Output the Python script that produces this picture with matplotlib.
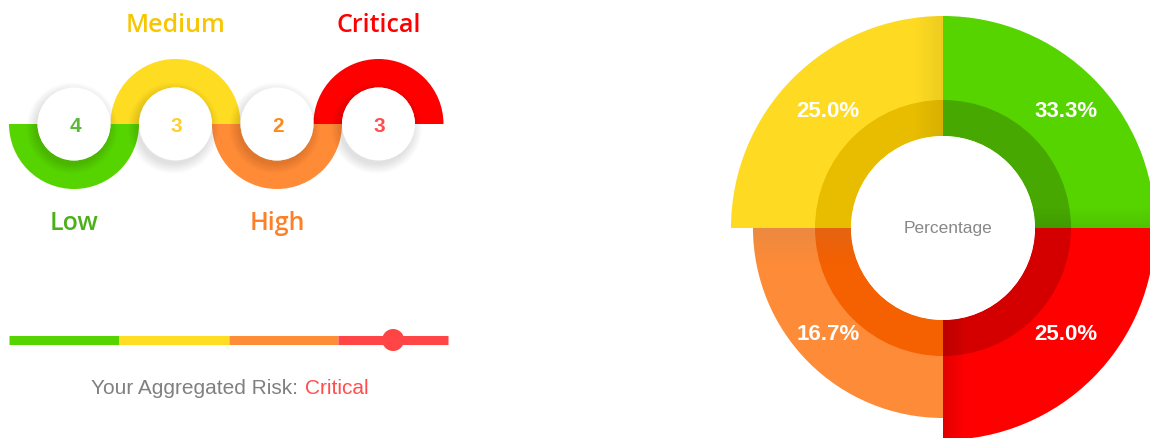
import numpy as np
import matplotlib
matplotlib.use("Agg")
import matplotlib.pyplot as plt
import matplotlib.patches as patches
from matplotlib.colors import to_rgb

# data
levels = ["Low", "Medium", "High", "Critical"]
counts = [4, 3, 2, 3]
risk_score = 3.5  # position on the 0..4 risk slider
risk_label = "Critical"

# colours
arc_colors = ["#55d400", "#fedc22", "#ff8b37", "#ff0000"]
num_colors = ["#5cb838", "#fdcf2f", "#ff8a1a", "#ff4d4d"]
lbl_colors = ["#4cb01c", "#f7c600", "#ff7f27", "#ff0000"]
bar_colors = ["#55d400", "#fedd22", "#ff8c37", "#ff4545"]
rose_colors = ["#55d400", "#fedb22", "#fd8b37", "#ff0000"]
rose_dark = ["#46a800", "#e8bd00", "#f56000", "#d40000"]
rose_outer = [212, 212, 190, 212]  # px radius of each slice

W, H = 1150, 438
fig = plt.figure(figsize=(W / 100, H / 100), dpi=100)
ax = fig.add_axes([0, 0, 1, 1])
ax.set_xlim(0, W)
ax.set_ylim(0, H)
ax.axis("off")


def Y(py):
    # pixel row -> data y
    return H - py


def shade(clip, extent, color, a0, a1, horizontal=True):
    # linear alpha ramp laid over a patch (fake echarts shadow)
    ramp = np.linspace(a0, a1, 64)
    img = np.zeros((1, 64, 4)) if horizontal else np.zeros((64, 1, 4))
    img[..., :3] = to_rgb(color)
    if horizontal:
        img[0, :, 3] = ramp
    else:
        img[:, 0, 3] = ramp
    im = ax.imshow(img, extent=extent, origin="lower", aspect="auto",
                   interpolation="bilinear", zorder=2)
    im.set_clip_path(clip)


# ---- snake of half rings ----
r_out, r_in = 65, 36.5
x0, step, base = 74, 101.5, Y(124)
centers = [x0 + i * step for i in range(len(levels))]
for i, cx in enumerate(centers):
    if i % 2 == 0:
        t1, t2 = 180, 360   # hangs below
    else:
        t1, t2 = 0, 180     # arches above
    ax.add_patch(patches.Wedge((cx, base), r_out, t1, t2, width=r_out - r_in,
                               facecolor=arc_colors[i], edgecolor="none"))

# soft shadow under white discs
for cx in centers:
    for k in range(10):
        ax.add_patch(patches.Circle((cx - 2, base - 4), r_in + 9 - k,
                                    facecolor="#000000", alpha=0.012,
                                    edgecolor="none"))
for i, cx in enumerate(centers):
    ax.add_patch(patches.Circle((cx, base), r_in, facecolor="white",
                                edgecolor="none"))
    ax.text(cx + 1, base - 2, str(counts[i]), ha="center", va="center",
            fontsize=15, fontweight="bold", color=num_colors[i],
            family="Liberation Sans")

for i, cx in enumerate(centers):
    ly = Y(26) if i % 2 == 1 else Y(224)
    ax.text(cx, ly, levels[i], ha="center", va="center", fontsize=18,
            fontweight="semibold", color=lbl_colors[i], family="Open Sans")

# ---- slider ----
bx0, bx1, by = 9, 448, Y(340)
seg = (bx1 - bx0) / len(levels)
for i in range(len(levels)):
    ax.plot([bx0 + i * seg, bx0 + (i + 1) * seg], [by, by], color=bar_colors[i],
            lw=6.5, solid_capstyle="butt")
ax.add_patch(patches.Circle((bx0 + risk_score * seg, by), 11,
                            facecolor="#ff4444", edgecolor="none"))
ax.text(298, Y(388), "Your Aggregated Risk:", ha="right", va="center",
        fontsize=15, color="#808080", family="Liberation Sans")
ax.text(305, Y(388), risk_label, ha="left", va="center",
        fontsize=15, color="#ff4d4d", family="Liberation Sans")

# ---- rose chart ----
cx, cy = 943, Y(228)
r_hole, r_dark = 92, 128
total = sum(counts)
n = len(counts)
slices = []
for i in range(n):
    t1, t2 = i * 360 / n, (i + 1) * 360 / n
    w = patches.Wedge((cx, cy), rose_outer[i], t1, t2,
                      width=rose_outer[i] - r_hole,
                      facecolor=rose_colors[i], edgecolor="none", zorder=1)
    ax.add_patch(w)
    ax.add_patch(patches.Wedge((cx, cy), r_dark, t1, t2, width=r_dark - r_hole,
                               facecolor=rose_dark[i], edgecolor="none",
                               zorder=1.5))
    slices.append(w)

# shadows cast by neighbouring slices
shade(slices[1], [cx - 30, cx, cy - 5, cy + 215], "#000000", 0.0, 0.07)
shade(slices[0], [cx, cx + 215, cy, cy + 21], "#000000", 0.08, 0.0, False)
shade(slices[3], [cx, cx + 20, cy - 215, cy], "#000000", 0.12, 0.02)
shade(slices[2], [cx - 195, cx, cy - 37, cy], "#808080", 0.0, 0.14, False)

for i in range(n):
    mid = np.deg2rad((i + 0.5) * 360 / n)
    lx = cx + 4 + 168 * np.cos(mid)
    ly = cy + 5 + 157 * np.sin(mid)
    ax.text(lx, ly, f"{counts[i] / total * 100:.1f}%", ha="center",
            va="center", fontsize=16, fontweight="bold", color="white",
            family="Liberation Sans", zorder=5)
ax.add_patch(patches.Circle((cx, cy), r_hole, facecolor="white",
                            edgecolor="none", zorder=4))
ax.text(cx + 5, cy - 1, "Percentage", ha="center", va="center",
        fontsize=12.5, color="#888888", family="Liberation Sans", zorder=5)

fig.savefig("out.png", dpi=100)
